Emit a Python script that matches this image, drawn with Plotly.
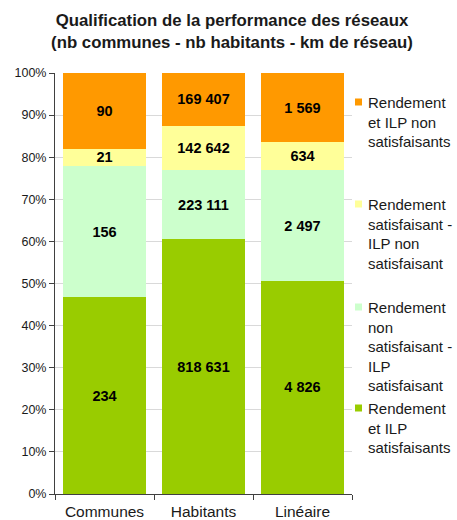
import plotly.graph_objects as go

# ---- data ----
categories = ["Communes", "Habitants", "Linéaire"]
series_names = [
    "Rendement et ILP satisfaisants",
    "Rendement non satisfaisant - ILP satisfaisant",
    "Rendement satisfaisant - ILP non satisfaisant",
    "Rendement et ILP non satisfaisants",
]
legend_labels = [
    "Rendement<br>et ILP<br>satisfaisants",
    "Rendement<br>non<br>satisfaisant -<br>ILP<br>satisfaisant",
    "Rendement<br>satisfaisant -<br>ILP non<br>satisfaisant",
    "Rendement<br>et ILP non<br>satisfaisants",
]
ok_both = [234, 818631, 4826]
rend_ko_ilp_ok = [156, 223111, 2497]
rend_ok_ilp_ko = [21, 142642, 634]
ko_both = [90, 169407, 1569]
series_values = [ok_both, rend_ko_ilp_ok, rend_ok_ilp_ko, ko_both]
colors = ["#99CC00", "#CCFFCC", "#FFFF99", "#FF9900"]
y_tick_vals = [0, 10, 20, 30, 40, 50, 60, 70, 80, 90, 100]
y_tick_text = [f"{v}%" for v in y_tick_vals]
title_text = ("<b>Qualification de la performance des réseaux<br>"
              "(nb communes - nb habitants - km de réseau)</b>")

FONT = "Liberation Sans, Arial, sans-serif"
W, H = 457, 520
ML, MR, MT, MB = 55, 105, 73, 26
PW, PH = W - ML - MR, H - MT - MB


def fmt(v):
    return f"{v:,}".replace(",", " ")


def px_x(x):
    return (x - ML) / PW


def px_y(y):
    return (H - MB - y) / PH


fig = go.Figure()
for name, vals, col in zip(series_names, series_values, colors):
    fig.add_trace(go.Bar(
        x=categories, y=vals, name=name,
        marker=dict(color=col, line=dict(width=0)),
        text=[fmt(v) for v in vals],
        textposition="inside", insidetextanchor="middle", textangle=0,
        textfont=dict(family=FONT, size=14.5, color="black", weight="bold"),
        showlegend=False, hoverinfo="skip",
    ))

# manual legend (text + swatches), top to bottom = reversed stack order
swatch_centers = [408, 307, 204, 102]
annotations = []
shapes = []
for lab, col, cy in zip(legend_labels, colors, swatch_centers):
    annotations.append(dict(
        text=lab, xref="paper", yref="paper",
        x=px_x(366), y=px_y(cy - 10), xanchor="left", yanchor="top",
        align="left", showarrow=False,
        font=dict(family=FONT, size=15, color="#1a1a1a"),
    ))
    shapes.append(dict(
        type="rect", xref="paper", yref="paper",
        x0=px_x(355), x1=px_x(362), y0=px_y(cy + 3.5), y1=px_y(cy - 3.5),
        fillcolor=col, line=dict(width=0),
    ))

fig.update_layout(
    width=W, height=H,
    margin=dict(l=ML, r=MR, t=MT, b=MB, pad=0),
    paper_bgcolor="white", plot_bgcolor="white",
    barmode="stack", barnorm="percent", bargap=0.165,
    title=dict(text=title_text, x=232 / W, xanchor="center", xref="container",
               y=1 - 26 / H, yanchor="top", yref="container",
               font=dict(family=FONT, size=16.8, color="#1a1a1a")),
    font=dict(family=FONT, color="#1a1a1a"),
    annotations=annotations, shapes=shapes,
    uniformtext=dict(mode="show", minsize=14.5),
)
fig.update_xaxes(
    showline=True, linecolor="#404040", linewidth=1,
    ticks="outside", ticklen=5, tickcolor="#404040", tickson="boundaries",
    tickfont=dict(family=FONT, size=15.5, color="#1a1a1a"),
    ticklabelstandoff=3,
    automargin=False, showgrid=False,
)
fig.update_yaxes(
    range=[0, 100], tickvals=y_tick_vals, ticktext=y_tick_text,
    showline=True, linecolor="#404040", linewidth=1,
    ticks="outside", ticklen=5, tickcolor="#404040",
    showgrid=True, gridcolor="#D9D9D9", gridwidth=1,
    tickfont=dict(family=FONT, size=12.5, color="#1a1a1a"),
    automargin=False, zeroline=False,
)

fig.write_html(
    "out.html",
    config={"displayModeBar": False},
    post_script="document.body.style.margin='0';"
                "document.body.style.padding='0';"
                "document.documentElement.style.overflow='hidden';",
)
